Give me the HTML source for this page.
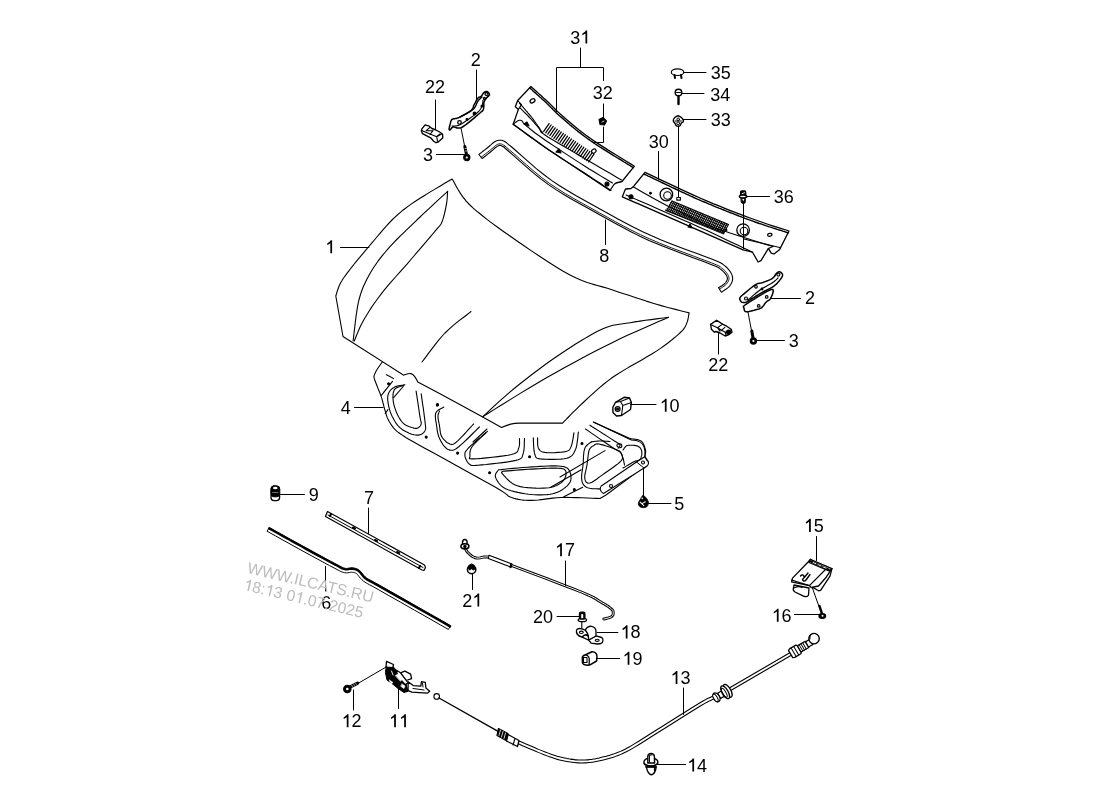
<!DOCTYPE html>
<html><head><meta charset="utf-8"><style>
html,body{margin:0;padding:0;background:#fff;width:1100px;height:800px;overflow:hidden}
svg{display:block;will-change:transform}
text{font-family:"Liberation Sans",sans-serif;font-size:18px;fill:#000}
.wm{font-size:15.75px;fill:#bdbdbd}
</style></head><body>
<svg width="1100" height="800" viewBox="0 0 1100 800">
<g fill="none" stroke="#000" stroke-width="1.1" stroke-linejoin="round" stroke-linecap="round">

<path fill="#fff" stroke="none" d="M377.3,369.0 L377.1,369.4 L376.7,370.1 L376.3,370.8 L375.9,371.6 L375.5,372.4 L375.1,373.2 L374.7,374.0 L374.5,374.7 L374.3,375.2 L374.1,375.6 L374.0,375.9 L373.9,376.2 L373.9,376.6 L374.0,377.2 L374.2,378.0 L374.5,379.2 L375.0,380.8 L375.8,382.8 L376.7,385.0 L377.6,387.4 L378.6,389.9 L379.6,392.3 L380.5,394.6 L381.2,396.6 L381.8,398.4 L382.3,400.1 L382.7,401.7 L383.1,403.3 L383.5,404.7 L383.8,406.2 L384.2,407.6 L384.6,409.0 L385.0,410.4 L385.4,411.7 L385.7,413.0 L386.1,414.2 L386.5,415.4 L386.9,416.6 L387.4,417.9 L388.0,419.1 L388.7,420.4 L389.4,421.7 L390.2,423.0 L391.0,424.4 L391.9,425.7 L392.8,426.9 L393.7,428.1 L394.7,429.2 L395.7,430.2 L396.7,431.1 L397.7,431.9 L398.8,432.7 L399.9,433.5 L401.1,434.3 L402.3,435.1 L403.7,436.0 L404.7,436.7 L405.2,437.1 L405.6,437.3 L406.1,437.7 L407.2,438.3 L409.2,439.4 L412.4,441.2 L417.2,443.9 L424.3,447.9 L433.7,453.0 L444.6,459.0 L456.2,465.5 L467.9,471.9 L478.8,478.0 L488.3,483.2 L495.5,487.3 L500.5,490.2 L503.8,492.4 L505.9,493.9 L507.1,494.9 L507.9,495.7 L508.7,496.2 L509.7,496.8 L511.5,497.5 L513.8,498.3 L516.1,498.9 L518.4,499.4 L520.8,499.8 L523.4,500.1 L526.0,500.3 L528.8,500.4 L531.8,500.4 L534.9,500.3 L538.2,500.0 L541.6,499.6 L545.2,499.1 L548.9,498.6 L552.7,498.1 L556.7,497.7 L560.9,497.5 L565.6,497.4 L570.9,497.5 L576.5,497.6 L582.3,497.8 L587.8,498.0 L592.7,498.2 L596.9,498.4 L600.0,498.5 L606,495 L642,468.4 L645.5,467.3 L648.5,462 L645,456.6 L644.9,450.6 C644,445 642,442 636,440.5 L631.3,440 L593.3,422.1 L560,424 L440,391 L383,360 Z"/>
<path d="M383,361 L377.3,369.0 L377.1,369.4 L376.7,370.1 L376.3,370.8 L375.9,371.6 L375.5,372.4 L375.1,373.2 L374.7,374.0 L374.5,374.7 L374.3,375.2 L374.1,375.6 L374.0,375.9 L373.9,376.2 L373.9,376.6 L374.0,377.2 L374.2,378.0 L374.5,379.2 L375.0,380.8 L375.8,382.8 L376.7,385.0 L377.6,387.4 L378.6,389.9 L379.6,392.3 L380.5,394.6 L381.2,396.6 L381.8,398.4 L382.3,400.1 L382.7,401.7 L383.1,403.3 L383.5,404.7 L383.8,406.2 L384.2,407.6 L384.6,409.0 L385.0,410.4 L385.4,411.7 L385.7,413.0 L386.1,414.2 L386.5,415.4 L386.9,416.6 L387.4,417.9 L388.0,419.1 L388.7,420.4 L389.4,421.7 L390.2,423.0 L391.0,424.4 L391.9,425.7 L392.8,426.9 L393.7,428.1 L394.7,429.2 L395.7,430.2 L396.7,431.1 L397.7,431.9 L398.8,432.7 L399.9,433.5 L401.1,434.3 L402.3,435.1 L403.7,436.0 L404.7,436.7 L405.2,437.1 L405.6,437.3 L406.1,437.7 L407.2,438.3 L409.2,439.4 L412.4,441.2 L417.2,443.9 L424.3,447.9 L433.7,453.0 L444.6,459.0 L456.2,465.5 L467.9,471.9 L478.8,478.0 L488.3,483.2 L495.5,487.3 L500.5,490.2 L503.8,492.4 L505.9,493.9 L507.1,494.9 L507.9,495.7 L508.7,496.2 L509.7,496.8 L511.5,497.5 L513.8,498.3 L516.1,498.9 L518.4,499.4 L520.8,499.8 L523.4,500.1 L526.0,500.3 L528.8,500.4 L531.8,500.4 L534.9,500.3 L538.2,500.0 L541.6,499.6 L545.2,499.1 L548.9,498.6 L552.7,498.1 L556.7,497.7 L560.9,497.5 L565.6,497.4 L570.9,497.5 L576.5,497.6 L582.3,497.8 L587.8,498.0 L592.7,498.2 L596.9,498.4 L600.0,498.5 L606,495 L642,468.4 L645.5,467.3 L648.5,462 L645,456.6 L644.9,450.6 C644,445 642,442 636,440.5 L631.3,440 L593.3,422.1"/>
<path d="M404.9,384.8 L404.1,384.9 L403.0,385.1 L401.6,385.3 L400.2,385.5 L398.7,385.8 L397.2,386.1 L395.8,386.5 L394.7,387.0 L393.7,387.6 L392.8,388.2 L391.9,388.9 L391.0,389.7 L390.3,390.5 L389.6,391.4 L389.1,392.3 L388.6,393.2 L388.2,394.2 L388.0,395.2 L387.8,396.2 L387.7,397.3 L387.7,398.5 L387.7,399.6 L387.8,400.9 L388.0,402.2 L388.2,403.6 L388.5,405.1 L388.8,406.6 L389.2,408.2 L389.6,409.8 L390.1,411.4 L390.7,413.0 L391.4,414.6 L392.1,416.2 L393.0,417.8 L393.8,419.5 L394.8,421.2 L395.8,422.8 L396.9,424.3 L398.0,425.7 L399.2,427.0 L400.5,428.1 L401.8,429.2 L403.3,430.2 L404.8,431.0 L406.3,431.8 L407.8,432.5 L409.2,433.2 L410.5,433.7 L411.8,434.2 L413.0,434.5 L414.2,434.8 L415.4,435.0 L416.5,435.1 L417.5,435.1 L418.6,435.1 L419.5,434.9 L420.4,434.6 L421.3,434.3 L422.1,433.8 L422.9,433.2 L423.6,432.6 L424.2,431.9 L424.7,431.2 L425.1,430.4 L425.4,429.7 L425.6,429.2 L425.7,428.6 L425.7,428.0 L425.6,427.1 L425.5,426.0 L425.3,424.5 L425.1,422.5 L424.8,419.7 L424.3,416.1 L423.8,412.0 L423.2,407.7 L422.5,403.4 L422.0,399.4 L421.5,396.2 L421.2,393.8"/>
<path d="M403.7,385.4 L403.0,385.7 L401.9,385.9 L400.7,386.3 L399.3,386.7 L397.9,387.2 L396.6,387.8 L395.5,388.5 L394.7,389.3 L394.1,390.3 L393.7,391.4 L393.3,392.7 L393.1,394.1 L393.0,395.5 L392.9,397.0 L393.0,398.5 L393.1,400.0 L393.3,401.6 L393.6,403.3 L394.0,405.0 L394.5,406.8 L395.1,408.6 L395.7,410.3 L396.3,412.0 L397.0,413.5 L397.7,415.0 L398.4,416.4 L399.2,417.8 L400.0,419.1 L400.8,420.4 L401.7,421.5 L402.7,422.6 L403.7,423.6 L404.8,424.5 L406.1,425.2 L407.5,425.9 L408.9,426.5 L410.3,427.0 L411.7,427.5 L412.9,427.8 L413.9,428.1 L414.7,428.3 L415.5,428.4 L416.1,428.4 L416.6,428.4 L417.1,428.3 L417.5,428.1 L418.0,427.9 L418.4,427.6 L418.9,427.3 L419.3,426.9 L419.8,426.5 L420.2,426.0 L420.5,425.5 L420.8,424.9 L421.1,424.3 L421.2,423.6 L421.3,423.0 L421.2,422.6 L421.2,422.1 L421.0,421.6 L420.8,420.9 L420.6,420.0 L420.3,418.7 L420.0,416.9 L419.6,414.4 L419.1,411.2 L418.6,407.5 L418.0,403.5 L417.4,399.7 L416.9,396.1 L416.4,393.1 L416.1,391.0"/>
<path d="M403.2,386.5 L393.6,397.7"/>
<path d="M381.2,395.5 L392.5,381.4"/>
<path d="M386.3,374.7 L386.6,374.8 L387.0,375.0 L387.4,375.2 L387.9,375.5 L388.5,375.7 L389.0,376.0 L389.5,376.2 L390.0,376.5 L390.5,376.8 L391.0,377.1 L391.5,377.4 L392.0,377.7 L392.5,378.0 L393.0,378.2 L393.3,378.4 L393.6,378.6"/>
<path d="M385.2,413.5 L388.0,409.6"/>
<path d="M443.8,407.0 L443.1,407.4 L442.2,407.9 L441.0,408.5 L439.8,409.2 L438.5,410.0 L437.4,410.9 L436.4,411.9 L435.8,413.0 L435.5,414.2 L435.3,415.6 L435.4,417.1 L435.5,418.7 L435.7,420.3 L436.0,421.9 L436.3,423.5 L436.5,425.0 L436.7,426.5 L436.9,427.9 L437.1,429.4 L437.3,430.8 L437.5,432.2 L437.9,433.7 L438.2,435.0 L438.7,436.4 L439.2,437.8 L439.9,439.2 L440.6,440.6 L441.3,441.9 L442.1,443.2 L442.9,444.5 L443.7,445.6 L444.5,446.5 L445.3,447.3 L446.0,448.0 L446.8,448.7 L447.6,449.2 L448.4,449.6 L449.3,449.9 L450.1,450.1 L451.0,450.2 L451.8,450.2 L452.6,450.2 L453.3,450.1 L454.1,449.8 L455.0,449.4 L456.1,448.7 L457.4,447.8 L459.0,446.5 L461.1,444.7 L463.7,442.3 L466.7,439.5 L469.8,436.5 L472.8,433.5 L475.5,430.8 L477.8,428.5 L479.5,426.9"/>
<path d="M439.5,411.0 L439.4,411.4 L439.2,411.8 L438.9,412.3 L438.7,412.9 L438.4,413.5 L438.2,414.3 L438.1,415.1 L438.0,416.0 L438.0,417.0 L438.1,418.1 L438.3,419.4 L438.5,420.7 L438.8,422.0 L439.0,423.4 L439.3,424.7 L439.5,426.0 L439.7,427.3 L439.9,428.6 L440.0,430.0 L440.2,431.4 L440.4,432.7 L440.7,434.0 L441.1,435.3 L441.6,436.4 L442.3,437.5 L443.1,438.6 L444.0,439.7 L445.0,440.7 L446.0,441.7 L447.0,442.5 L448.0,443.1 L449.0,443.6 L449.8,444.0 L450.6,444.2 L451.3,444.4 L452.0,444.5 L452.8,444.3 L453.7,443.9 L454.8,443.2 L456.2,442.2 L458.0,440.6 L460.2,438.4 L462.7,435.8 L465.4,433.0 L467.9,430.2 L470.2,427.7 L472.2,425.5 L473.6,424.0"/>
<path d="M487.5,431.3 L485.9,432.7 L483.7,434.5 L481.1,436.8 L478.2,439.2 L475.3,441.7 L472.6,444.1 L470.3,446.2 L468.5,448.0 L467.3,449.4 L466.3,450.5 L465.7,451.4 L465.2,452.2 L465.0,452.9 L464.9,453.6 L464.9,454.4 L464.9,455.3 L465.0,456.4 L465.3,457.6 L465.8,458.8 L466.3,460.0 L467.0,461.2 L467.7,462.3 L468.5,463.3 L469.3,464.0 L470.0,464.5 L470.5,465.0 L471.0,465.3 L471.6,465.4 L472.4,465.5 L473.7,465.5 L475.5,465.4 L478.0,465.2 L481.5,464.9 L486.1,464.5 L491.4,463.9 L497.0,463.3 L502.6,462.6 L507.8,461.9 L512.3,461.1 L515.8,460.4 L518.2,459.7 L519.9,459.1 L521.0,458.4 L521.7,457.8 L522.1,457.0 L522.4,456.1 L522.7,455.1 L523.1,453.8 L523.6,452.2 L523.9,450.2 L524.1,448.0 L524.3,445.7 L524.3,443.5 L524.4,441.5 L524.4,439.7 L524.5,438.5"/>
<path d="M486.0,432.7 L484.9,433.8 L483.2,435.3 L481.3,437.1 L479.2,439.0 L477.1,441.0 L475.2,443.0 L473.5,444.9 L472.2,446.5 L471.3,447.9 L470.7,449.3 L470.3,450.7 L470.0,451.9 L469.9,453.1 L469.9,454.2 L469.9,455.2 L470.0,456.0 L469.9,456.7 L469.7,457.4 L469.4,457.9 L469.3,458.3 L469.5,458.6 L470.2,458.8 L471.5,458.9 L473.6,458.9 L476.9,458.7 L481.4,458.4 L486.6,457.9 L492.3,457.3 L498.0,456.6 L503.4,455.9 L508.0,455.2 L511.5,454.5 L513.9,453.8 L515.6,453.1 L516.7,452.3 L517.4,451.6 L517.8,450.7 L518.1,449.9 L518.3,449.0 L518.7,448.0 L519.1,446.9 L519.4,445.6 L519.5,444.2 L519.6,442.8 L519.5,441.5 L519.5,440.3 L519.5,439.3 L519.5,438.5"/>
<path d="M473.0,442.0 L487.0,429.0"/>
<path d="M533.3,437.8 L533.4,439.1 L533.4,440.9 L533.5,443.1 L533.6,445.5 L533.8,447.9 L534.0,450.2 L534.3,452.2 L534.7,453.8 L535.1,455.0 L535.4,456.0 L535.7,456.8 L536.0,457.4 L536.6,457.9 L537.5,458.3 L538.8,458.6 L540.5,458.9 L542.9,459.1 L546.0,459.3 L549.6,459.4 L553.4,459.4 L557.3,459.3 L560.9,459.1 L564.1,458.7 L566.7,458.2 L568.7,457.6 L570.3,456.8 L571.5,455.9 L572.6,454.9 L573.4,453.8 L574.1,452.5 L574.8,451.1 L575.5,449.5 L576.2,447.6 L576.7,445.3 L577.1,442.8 L577.5,440.2 L577.8,437.7 L578.0,435.4 L578.2,433.4 L578.4,432.0"/>
<path d="M537.6,437.8 L537.6,438.6 L537.6,439.8 L537.6,441.1 L537.6,442.6 L537.6,444.2 L537.8,445.6 L538.0,446.9 L538.4,448.0 L538.8,448.9 L539.3,449.6 L539.8,450.3 L540.4,450.9 L541.2,451.4 L542.2,451.8 L543.4,452.1 L544.9,452.4 L546.9,452.6 L549.4,452.7 L552.2,452.7 L555.1,452.6 L558.1,452.4 L560.9,452.2 L563.4,451.9 L565.3,451.6 L566.7,451.2 L567.8,450.8 L568.7,450.4 L569.3,449.9 L569.8,449.2 L570.2,448.5 L570.6,447.6 L571.1,446.5 L571.6,445.1 L572.1,443.3 L572.5,441.4 L572.9,439.3 L573.3,437.2 L573.5,435.4 L573.8,433.8 L574.0,432.7"/>
<path d="M498.4,469.8 L498.1,470.3 L497.6,471.0 L497.0,471.8 L496.3,472.7 L495.8,473.7 L495.4,474.8 L495.3,475.9 L495.5,477.1 L496.0,478.4 L496.7,479.8 L497.6,481.4 L498.7,483.0 L500.1,484.6 L501.6,486.1 L503.5,487.5 L505.6,488.7 L508.1,489.8 L511.1,490.7 L514.4,491.6 L517.9,492.4 L521.5,493.1 L525.1,493.7 L528.6,494.2 L531.8,494.5 L534.9,494.7 L538.0,494.9 L541.1,494.9 L544.2,494.8 L547.1,494.6 L550.0,494.2 L552.6,493.7 L555.1,493.1 L557.4,492.3 L559.7,491.2 L561.8,490.0 L563.8,488.6 L565.6,487.2 L567.2,485.8 L568.5,484.3 L569.6,482.9 L570.4,481.5 L570.8,479.9 L571.0,478.4 L571.0,476.8 L570.9,475.2 L570.6,473.8 L570.1,472.4 L569.6,471.3 L569.1,470.3 L568.5,469.4 L567.9,468.7 L567.1,468.0 L566.0,467.4 L564.7,466.9 L563.0,466.5 L560.9,466.2 L558.3,466.0 L555.2,465.9 L551.7,465.9 L547.9,466.0 L543.9,466.2 L539.9,466.4 L535.8,466.7 L531.8,466.9 L527.6,467.2 L523.0,467.5 L518.1,468.0 L513.3,468.4 L508.7,468.8 L504.5,469.2 L501.0,469.6 L498.4,469.8Z"/>
<path d="M502.7,471.3 L502.6,471.5 L502.4,471.6 L502.1,471.8 L501.8,472.0 L501.6,472.3 L501.7,472.8 L502.0,473.4 L502.7,474.2 L503.7,475.3 L505.0,476.7 L506.5,478.3 L508.2,480.0 L510.1,481.8 L512.3,483.4 L514.7,484.7 L517.3,485.8 L520.3,486.6 L523.9,487.2 L527.8,487.6 L531.9,487.9 L535.9,488.1 L539.8,488.2 L543.4,488.1 L546.4,488.0 L549.0,487.7 L551.3,487.3 L553.3,486.8 L555.1,486.1 L556.8,485.4 L558.3,484.6 L559.6,483.8 L560.9,482.9 L562.1,482.0 L563.1,480.9 L563.9,479.8 L564.7,478.6 L565.2,477.4 L565.7,476.3 L565.9,475.2 L566.0,474.2 L566.0,473.3 L566.0,472.4 L565.9,471.5 L565.6,470.7 L565.0,470.0 L564.1,469.3 L562.8,468.8 L560.9,468.4 L558.4,468.2 L555.3,468.1 L551.7,468.1 L547.8,468.2 L543.8,468.4 L539.6,468.7 L535.6,468.9 L531.8,469.1 L528.0,469.3 L523.8,469.6 L519.6,469.9 L515.4,470.2 L511.5,470.6 L507.9,470.9 L504.9,471.1 L502.7,471.3Z"/>
<path d="M550.7,487.3 L581.3,469.8"/>
<path d="M563.8,496.7 L582.7,487.3"/>
<path d="M560.0,477.0 L605.0,450.6"/>
<path d="M591.5,441.8 L590.9,442.2 L590.2,442.7 L589.2,443.4 L588.2,444.1 L587.2,445.0 L586.2,446.0 L585.4,447.1 L584.8,448.5 L584.3,450.1 L583.9,452.0 L583.7,454.0 L583.5,456.2 L583.4,458.5 L583.3,460.8 L583.2,462.9 L583.0,465.0 L582.8,467.0 L582.5,469.0 L582.2,471.1 L581.9,473.1 L581.7,475.0 L581.6,476.8 L581.6,478.5 L581.8,480.0 L582.0,481.3 L582.4,482.5 L582.9,483.6 L583.5,484.6 L584.1,485.5 L585.0,486.2 L585.9,486.9 L587.0,487.5 L588.4,488.0 L590.1,488.3 L592.1,488.6 L594.1,488.7 L596.1,488.8 L597.9,488.9 L599.4,488.9 L600.5,489.0"/>
<path d="M593.8,445.5 L593.2,445.9 L592.5,446.3 L591.6,446.8 L590.8,447.6 L589.9,448.6 L589.2,450.0 L588.7,451.9 L588.3,454.3 L588.0,456.9 L587.7,459.7 L587.3,462.5 L587.0,465.0 L586.5,467.4 L586.0,469.9 L585.4,472.4 L584.9,474.7 L584.7,476.8 L584.8,478.5 L585.1,479.9 L585.6,481.2 L586.3,482.2 L587.2,482.9 L588.5,483.2 L590.0,483.0 L591.9,482.2 L594.3,480.8 L596.9,479.0 L599.6,476.9 L602.4,474.9 L605.0,473.0 L607.6,471.2 L610.5,469.2 L613.3,467.2 L615.9,465.3 L618.2,463.6 L620.0,462.0 L621.2,460.7 L622.0,459.6 L622.4,458.7 L622.5,457.8 L622.5,456.9 L622.2,456.0 L622.0,455.0 L621.5,454.0 L620.9,453.0 L620.0,452.0 L618.7,451.0 L617.0,450.0 L614.6,448.9 L611.5,447.7 L608.0,446.5 L604.5,445.4 L601.4,444.6 L599.0,444.0 L597.3,443.8 L596.1,444.0 L595.2,444.4 L594.6,444.8 L594.2,445.2 L593.8,445.5"/>
<path d="M591.5,441.8 L592.1,441.7 L593.0,441.6 L594.0,441.5 L595.1,441.3 L596.3,441.2 L597.6,441.1 L598.8,441.0 L600.0,441.0 L601.2,441.0 L602.6,441.0 L604.1,441.1 L605.5,441.2 L606.9,441.3 L608.2,441.4 L609.2,441.5 L610.0,441.5"/>
<path d="M630.5,438.8 L631.4,438.9 L632.5,439.0 L633.9,439.1 L635.5,439.3 L637.0,439.6 L638.6,439.9 L639.9,440.4 L641.0,441.0 L641.9,441.8 L642.7,442.8 L643.4,444.0 L644.0,445.2 L644.5,446.5 L644.9,447.8 L645.2,448.9 L645.5,450.0 L645.7,451.0 L645.7,452.0 L645.6,453.0 L645.4,453.9 L645.2,454.8 L645.0,455.6 L644.8,456.2 L644.8,456.8"/>
<path d="M623.0,450.0 L623.3,449.6 L623.7,449.1 L624.1,448.4 L624.6,447.7 L625.2,447.0 L625.8,446.4 L626.6,445.8 L627.5,445.5 L628.6,445.3 L629.9,445.2 L631.3,445.2 L632.8,445.3 L634.3,445.4 L635.7,445.6 L637.0,445.9 L638.0,446.2 L638.8,446.7 L639.5,447.2 L640.1,447.8 L640.6,448.5 L641.0,449.2 L641.3,449.9 L641.6,450.7 L641.8,451.5 L641.8,452.4 L641.9,453.3 L641.8,454.3 L641.7,455.4 L641.4,456.4 L641.1,457.4 L640.7,458.3 L640.2,459.0 L639.7,459.6 L639.0,460.0 L638.3,460.3 L637.4,460.6 L636.5,460.9 L635.6,461.1 L634.6,461.5 L633.5,462.0 L632.3,462.6 L630.9,463.4 L629.4,464.3 L627.8,465.2 L626.3,466.1 L625.0,466.9 L623.8,467.5 L623.0,468.0"/>
<path d="M593.8,422.2 L630.5,438.8"/>
<path d="M590.0,425.2 L592.2,426.7 L595.4,428.7 L599.2,431.1 L603.2,433.8 L607.4,436.4 L611.2,438.9 L614.5,441.0 L617.0,442.5 L618.6,443.4 L619.7,443.9 L620.3,444.2 L620.7,444.1 L620.8,444.0 L620.8,443.9 L620.8,443.8 L621.0,444.0 L621.3,444.3 L621.5,444.7 L621.6,445.1 L621.7,445.5 L621.8,446.0 L621.7,446.4 L621.7,446.7 L621.5,447.0 L621.2,447.2 L620.8,447.4 L620.3,447.6 L619.8,447.7 L619.2,447.8 L618.7,447.9 L618.3,447.9 L618.0,448.0"/>
<path d="M585.5,429.0 L587.9,430.6 L591.1,432.9 L595.1,435.6 L599.4,438.6 L603.7,441.5 L607.8,444.3 L611.3,446.7 L614.0,448.5 L615.8,449.6 L617.2,450.3 L618.0,450.7 L618.6,450.8 L619.0,450.8 L619.2,450.9 L619.5,451.1 L620.0,451.5 L620.5,452.1 L621.0,452.9 L621.4,453.7 L621.8,454.5 L622.1,455.4 L622.4,456.3 L622.7,457.1 L623.0,458.0 L623.3,458.9 L623.5,459.9 L623.7,460.9 L623.9,461.9 L624.1,462.9 L624.3,463.7 L624.4,464.5 L624.5,465.0"/>
<path fill="#fff" d="M636.5,462 L601.25,486 C599.5,488 600,492 603.5,493.5 L644,468 L647,466 C649,464 649,461.5 647,460.5 L644.75,456.75 L636.5,462 Z"/><path d="M636.5,462 L644,468" stroke-width="1"/>
<circle cx="611" cy="486" r="1.5"/>
<circle cx="643" cy="462.5" r="1.5"/>
<circle cx="618.5" cy="445.5" r="1.6"/>
<circle cx="582" cy="443.5" r="1" fill="#000"/>
<circle cx="574.3" cy="489.6" r="1" fill="#000"/>
<circle cx="437.3" cy="405.1" r="1" fill="#000"/>
<circle cx="457.6" cy="453.1" r="1" fill="#000"/>
<circle cx="489.6" cy="472.7" r="1" fill="#000"/>
<circle cx="529.6" cy="456.7" r="1" fill="#000"/>
<circle cx="388.6" cy="383.7" r="1" fill="#000"/>
<circle cx="426.2" cy="437.1" r="1" fill="#000"/>
<circle cx="437.5" cy="404.5" r="1" fill="#000"/>
<path fill="#fff" d="M452.1,179.0 L449.1,180.8 L445.1,183.1 L440.3,186.0 L435.0,189.1 L429.5,192.4 L424.1,195.7 L419.2,198.7 L415.0,201.5 L411.5,203.9 L408.4,206.1 L405.5,208.2 L402.9,210.2 L400.4,212.3 L397.9,214.5 L395.3,216.9 L392.5,219.5 L389.6,222.5 L386.5,225.8 L383.4,229.3 L380.4,232.9 L377.3,236.5 L374.4,240.0 L371.5,243.4 L368.9,246.5 L366.4,249.4 L364.1,252.2 L361.8,254.8 L359.7,257.4 L357.6,259.8 L355.7,262.2 L353.8,264.5 L352.0,266.8 L350.3,269.0 L348.7,271.1 L347.1,273.1 L345.7,275.1 L344.3,277.0 L343.0,278.8 L341.9,280.7 L340.8,282.5 L339.8,284.4 L339.0,286.3 L338.3,288.3 L337.6,290.2 L337.0,292.0 L336.6,293.6 L336.1,295.0 L335.8,296.0 L343,336.5 L403.7,375.2 C406,374.5 409,373 411,373.6 C414,374.5 416,378 417.8,382 L440,393.8 L481.8,416.6 L501.5,427.5 C507,425 513,423.1 518.9,423.1 L562.6,423.1 562.6,423.1 L564.0,421.6 L565.9,419.7 L568.0,417.5 L570.5,414.9 L573.2,412.2 L576.1,409.3 L579.1,406.4 L582.2,403.5 L585.4,400.5 L588.7,397.4 L592.3,394.2 L595.9,390.8 L599.8,387.4 L603.9,384.0 L608.2,380.6 L612.7,377.3 L617.7,374.0 L623.2,370.6 L629.0,367.1 L635.0,363.7 L640.9,360.4 L646.6,357.1 L651.8,354.0 L656.4,351.1 L660.5,348.4 L664.2,345.7 L667.6,343.2 L670.7,340.8 L673.5,338.5 L676.1,336.4 L678.4,334.4 L680.4,332.5 L682.1,330.9 L683.4,329.4 L684.3,328.2 L685.0,327.0 L685.5,326.0 L686.0,324.9 L686.4,323.9 L686.9,322.7 L687.4,321.4 L687.8,320.0 L688.1,318.6 L688.4,317.2 L688.6,315.9 L688.8,314.7 L689.0,313.7 L689.1,312.9 689.1,312.9 L686.7,312.3 L683.5,311.5 L679.7,310.5 L675.5,309.4 L670.9,308.2 L666.1,307.0 L661.2,305.6 L656.4,304.2 L651.5,302.7 L646.2,301.1 L640.8,299.3 L635.2,297.5 L629.5,295.6 L623.8,293.7 L618.2,291.9 L612.7,290.0 L607.4,288.3 L602.4,286.9 L597.4,285.5 L592.4,284.1 L587.2,282.4 L581.9,280.5 L576.2,278.0 L570.0,275.0 L563.2,271.2 L555.8,266.8 L547.9,261.8 L539.9,256.5 L531.8,251.1 L524.0,245.8 L516.7,240.7 L510.0,236.0 L503.8,231.7 L497.9,227.5 L492.3,223.4 L487.0,219.4 L482.1,215.5 L477.5,211.8 L473.2,208.1 L469.4,204.5 L466.0,200.9 L463.0,197.1 L460.4,193.4 L458.2,189.8 L456.3,186.4 L454.7,183.4 L453.3,180.9 L452.1,179.0 Z"/>
<path d="M447.6,191.4 L445.0,193.8 L441.6,196.9 L437.5,200.7 L433.0,204.9 L428.2,209.3 L423.5,213.7 L419.0,218.0 L415.0,221.8 L411.3,225.4 L407.6,228.8 L404.1,232.3 L400.6,235.7 L397.2,239.0 L394.0,242.3 L390.9,245.6 L388.0,248.8 L385.3,252.0 L382.7,255.1 L380.3,258.1 L378.0,261.2 L375.9,264.2 L373.8,267.2 L371.9,270.3 L370.0,273.5 L368.2,276.7 L366.6,279.8 L365.1,282.9 L363.6,286.0 L362.3,289.3 L361.1,292.7 L359.9,296.5 L358.8,300.5 L357.8,305.2 L356.9,310.6 L356.0,316.5 L355.3,322.4 L354.6,328.2 L354.0,333.4 L353.5,337.8 L353.1,341.0"/>
<path d="M447.6,191.4 L447.5,192.3 L447.5,193.5 L447.4,194.9 L447.3,196.5 L447.2,198.2 L447.0,200.0 L446.8,201.9 L446.5,203.8 L446.1,205.8 L445.7,208.1 L445.2,210.5 L444.6,213.0 L444.0,215.5 L443.4,217.8 L442.7,219.9 L442.0,221.8 L441.4,223.2 L440.9,224.2 L440.4,224.9 L439.9,225.6 L439.2,226.3 L438.3,227.3 L437.0,228.8 L435.3,230.8 L433.1,233.5 L430.5,236.6 L427.5,240.1 L424.3,243.9 L420.9,247.8 L417.4,251.9 L413.9,256.0 L410.5,260.0 L407.0,264.1 L403.2,268.3 L399.4,272.6 L395.5,277.0 L391.6,281.4 L387.9,285.7 L384.4,289.9 L381.3,293.8 L378.5,297.5 L375.8,301.2 L373.3,304.7 L371.0,308.1 L368.9,311.5 L366.9,314.7 L365.0,317.8 L363.3,320.8 L361.7,323.8 L360.2,326.8 L358.9,329.8 L357.7,332.6 L356.6,335.2 L355.7,337.5 L354.9,339.5 L354.3,341.0"/>
<path d="M471.0,311.5 L469.0,313.1 L466.3,315.2 L463.0,317.7 L459.4,320.4 L455.7,323.4 L451.9,326.6 L448.3,329.8 L445.0,333.0 L441.8,336.5 L438.5,340.4 L435.1,344.6 L431.9,348.8 L428.8,352.9 L426.1,356.6 L423.8,359.7 L422.0,362.0"/>
<path d="M668.4,317.3 L664.2,319.2 L658.6,321.6 L652.0,324.4 L644.6,327.7 L636.7,331.2 L628.6,334.8 L620.5,338.6 L612.7,342.4 L605.0,346.3 L597.0,350.3 L588.8,354.6 L580.5,359.0 L572.2,363.5 L563.8,368.0 L555.5,372.7 L547.3,377.3 L538.8,382.3 L529.6,387.7 L520.2,393.4 L511.0,399.1 L502.3,404.5 L494.4,409.4 L487.9,413.5 L482.9,416.6"/>
<path d="M668.4,317.3 L665.4,317.7 L661.3,318.2 L656.4,318.9 L651.1,319.6 L645.5,320.3 L640.0,321.1 L634.8,321.9 L630.2,322.7 L626.3,323.3 L622.8,323.8 L619.5,324.2 L616.3,324.7 L613.1,325.3 L609.7,326.2 L606.0,327.5 L601.8,329.3 L597.1,331.6 L592.0,334.3 L586.6,337.4 L581.0,340.8 L575.2,344.3 L569.5,348.0 L563.8,351.8 L558.2,355.5 L552.7,359.3 L547.0,363.3 L541.3,367.5 L535.6,371.7 L530.0,376.0 L524.6,380.2 L519.4,384.3 L514.5,388.2 L509.8,392.1 L505.0,396.3 L500.4,400.4 L496.0,404.4 L491.9,408.2 L488.3,411.6 L485.3,414.4 L482.9,416.6"/>
<path fill="#fff" d="M478.9,154.5 L480.0,153.6 L481.5,152.4 L483.3,151.0 L485.1,149.6 L486.9,148.2 L488.4,147.0 L489.5,146.0 L490.6,145.1 L491.6,144.2 L492.6,143.3 L493.6,142.5 L494.7,141.8 L495.7,141.2 L496.7,140.8 L497.7,140.5 L498.7,140.3 L499.7,140.2 L500.7,140.2 L501.7,140.3 L502.6,140.6 L503.5,140.9 L504.3,141.3 L505.1,141.8 L505.9,142.3 L506.1,142.4 L505.3,142.1 L506.7,142.8 L507.2,143.3 L508.7,144.6 L511.7,147.0 L516.3,151.0 L522.1,156.2 L528.9,162.2 L536.3,168.6 L544.0,174.8 L551.5,180.4 L559.2,185.5 L567.3,190.5 L575.7,195.5 L584.2,200.3 L592.8,205.1 L601.3,209.7 L609.5,214.3 L617.5,218.7 L625.5,223.0 L633.6,227.3 L642.1,231.5 L651.1,235.6 L661.2,239.9 L672.6,244.4 L684.4,248.9 L695.6,253.0 L705.5,256.7 L713.0,259.6 L717.7,261.5 L720.4,262.7 L721.8,263.4 L722.8,264.2 L722.9,264.4 L723.6,264.9 L724.9,265.9 L726.2,267.0 L727.4,268.1 L728.4,269.3 L729.3,270.4 L730.2,271.6 L730.9,272.7 L731.5,273.9 L732.0,275.1 L732.4,276.4 L732.6,277.8 L732.6,279.2 L732.4,280.6 L732.0,282.0 L731.4,283.2 L730.7,284.5 L729.9,285.6 L728.9,286.8 L727.7,287.9 L726.2,289.0 L724.7,290.0 L723.4,290.9 L722.2,291.7 L721.4,292.2 L718.6,287.8 718.6,287.8 L719.4,287.3 L720.6,286.5 L721.9,285.7 L723.2,284.8 L724.3,284.0 L725.1,283.2 L725.7,282.5 L726.3,281.7 L726.7,280.9 L727.1,280.1 L727.3,279.4 L727.4,278.8 L727.4,278.2 L727.3,277.6 L727.1,276.9 L726.8,276.1 L726.4,275.3 L725.8,274.4 L725.2,273.6 L724.5,272.7 L723.6,271.8 L722.7,270.9 L721.7,270.0 L720.4,269.1 L719.4,268.2 L719.0,267.8 L719.2,267.9 L718.3,267.4 L715.7,266.3 L711.0,264.4 L703.6,261.6 L693.8,257.9 L682.6,253.7 L670.8,249.3 L659.3,244.7 L648.9,240.4 L639.9,236.2 L631.3,231.9 L623.0,227.6 L615.0,223.3 L606.9,218.8 L598.7,214.3 L590.3,209.6 L581.7,204.8 L573.1,200.0 L564.6,195.0 L556.3,189.9 L548.5,184.6 L540.8,178.9 L533.0,172.6 L525.5,166.1 L518.7,160.1 L512.8,154.9 L508.3,151.0 L505.4,148.5 L503.9,147.2 L503.3,146.7 L504.6,147.3 L503.8,147.1 L503.1,146.7 L502.4,146.2 L501.8,145.9 L501.4,145.7 L501.0,145.5 L500.7,145.4 L500.3,145.4 L499.9,145.4 L499.4,145.4 L499.0,145.5 L498.5,145.7 L498.0,145.9 L497.3,146.2 L496.7,146.7 L495.9,147.3 L495.0,148.0 L494.0,148.9 L492.9,149.9 L491.6,151.0 L490.1,152.2 L488.4,153.6 L486.5,155.1 L484.7,156.5 L483.2,157.7 L482.1,158.5 Z"/>
<path d="M481.1,157.3 L482.2,156.4 L483.7,155.2 L485.5,153.8 L487.4,152.4 L489.1,151.0 L490.6,149.8 L491.9,148.7 L493.0,147.8 L494.0,146.9 L494.9,146.1 L495.7,145.4 L496.5,144.9 L497.3,144.4 L498.0,144.1 L498.6,144.0 L499.2,143.8 L499.8,143.8 L500.4,143.8 L501.0,143.9 L501.5,144.0 L502.0,144.2 L502.6,144.5 L503.2,144.9 L504.0,145.3 L504.5,145.6 L504.8,145.7 L504.3,145.5 L504.9,146.0 L506.4,147.3 L509.3,149.8 L513.9,153.7 L519.7,158.9 L526.6,164.9 L534.0,171.3 L541.7,177.6 L549.4,183.3 L557.2,188.5 L565.4,193.6 L573.9,198.6 L582.5,203.4 L591.1,208.2 L599.5,212.9 L607.7,217.4 L615.7,221.9 L623.8,226.2 L632.0,230.5 L640.5,234.7 L649.6,238.9 L659.9,243.3 L671.3,247.8 L683.1,252.2 L694.4,256.4 L704.2,260.1 L711.6,262.9 L716.3,264.8 L718.9,265.9 L720.0,266.5 L720.2,266.7 L720.5,267.1 L721.4,267.8 L722.7,268.7 L723.8,269.7 L724.8,270.6 L725.7,271.6 L726.5,272.6 L727.2,273.6 L727.8,274.5 L728.2,275.4 L728.6,276.3 L728.9,277.2 L729.0,278.1 L729.0,278.9 L728.9,279.8 L728.6,280.7 L728.2,281.6 L727.6,282.5 L727.0,283.4 L726.3,284.3 L725.3,285.2 L724.1,286.1 L722.8,287.0 L721.4,287.9 L720.3,288.6 L719.4,289.2" stroke-width="0.9"/>
<path fill="#fff" stroke-width="1.3" d="M530.9,86.5 L532.2,87.7 L534.0,89.3 L536.2,91.2 L538.5,93.4 L541.0,95.6 L543.5,97.9 L545.9,100.0 L548.0,102.0 L549.8,103.8 L551.5,105.4 L553.0,107.0 L554.5,108.5 L556.1,110.2 L557.9,111.9 L560.0,113.8 L562.5,116.0 L565.3,118.4 L568.3,121.0 L571.6,123.8 L575.1,126.7 L578.8,129.7 L582.7,132.7 L586.8,135.9 L591.2,139.0 L596.2,142.4 L602.0,146.1 L608.2,150.1 L614.6,154.0 L620.7,157.8 L626.3,161.2 L631.0,164.1 L634.4,166.2 L622,181.5 L616,183 L614,184.5 L610,190.5 L549,150 L513.2,124.2 L518.4,109.4 L515.3,106.7 L517.7,100.5 Z"/>
<path d="M529.7,87.8 L529.9,88.0 L530.2,88.3 L530.6,88.6 L531.0,89.0 L531.4,89.4 L531.9,89.8 L532.4,90.2 L532.8,90.7 L533.3,91.1 L533.8,91.6 L534.4,92.1 L535.0,92.6 L535.6,93.1 L536.1,93.6 L536.7,94.2 L537.3,94.7 L537.9,95.3 L538.6,95.8 L539.2,96.4 L539.8,97.0 L540.5,97.5 L541.1,98.1 L541.7,98.7 L542.3,99.2 L542.9,99.7 L543.5,100.3 L544.1,100.8 L544.6,101.3 L545.2,101.8 L545.7,102.3 L546.3,102.8 L546.8,103.3 L547.2,103.8 L547.7,104.2 L548.1,104.6 L548.6,105.0 L549.0,105.5 L549.4,105.9 L549.8,106.3 L550.2,106.7 L550.6,107.1 L551.0,107.5 L551.4,107.8 L551.7,108.2 L552.1,108.6 L552.5,109.0 L552.8,109.4 L553.2,109.8 L553.7,110.2 L554.1,110.6 L554.5,111.0 L554.9,111.4 L555.3,111.9 L555.8,112.3 L556.2,112.8 L556.7,113.2 L557.2,113.7 L557.7,114.2 L558.3,114.7 L558.9,115.2 L559.4,115.7 L560.0,116.2 L560.7,116.8 L561.3,117.4 L562.0,117.9 L562.7,118.5 L563.4,119.1 L564.1,119.8 L564.9,120.4 L565.6,121.1 L566.4,121.7 L567.2,122.4 L568.0,123.1 L568.8,123.8 L569.6,124.5 L570.4,125.2 L571.3,125.9 L572.1,126.6 L573.0,127.3 L573.9,128.1 L574.8,128.8 L575.7,129.6 L576.7,130.3 L577.6,131.1 L578.6,131.9 L579.6,132.6 L580.6,133.4 L581.6,134.2 L582.6,134.9 L583.6,135.7 L584.6,136.5 L585.7,137.3 L586.7,138.0 L587.8,138.8 L589.0,139.6 L590.2,140.5 L591.4,141.3 L592.7,142.2 L594.0,143.1 L595.3,144.0 L596.7,144.9 L598.1,145.8 L599.6,146.7 L601.0,147.7 L602.5,148.6 L604.1,149.6 L605.7,150.6 L607.3,151.6 L608.9,152.6 L610.5,153.6 L612.1,154.6 L613.6,155.6 L615.2,156.5 L616.7,157.5 L618.3,158.4 L619.8,159.3 L621.3,160.2 L622.7,161.1 L624.1,162.0 L625.4,162.7 L626.6,163.5 L627.8,164.3 L629.0,165.0 L630.1,165.7 L631.2,166.3 L632.1,166.9 L632.9,167.4 L633.5,167.7" stroke-width="1.4"/>
<path d="M519.4,103.2 L519.9,103.7 L520.5,104.4 L521.2,105.2 L522.1,106.1 L523.0,107.1 L523.9,108.1 L524.7,109.1 L525.6,110.1 L526.4,111.1 L527.3,112.0 L528.1,113.1 L529.0,114.1 L529.9,115.1 L530.8,116.2 L531.6,117.3 L532.5,118.4 L533.4,119.6 L534.3,120.8 L535.1,122.0 L536.0,123.3 L536.9,124.5 L537.8,125.8 L538.6,126.9 L539.4,128.0 L539.9,128.9 L540.1,129.5 L540.1,130.1 L540.2,130.6 L540.5,131.3 L541.2,132.2 L542.7,133.4 L545.0,135.0 L548.3,137.2 L552.6,139.8 L557.5,142.7 L562.8,145.8 L568.5,149.1 L574.1,152.4 L579.5,155.5 L584.6,158.5 L589.6,161.4 L594.9,164.5 L600.3,167.7 L605.5,170.7 L610.5,173.6 L614.9,176.2 L618.7,178.4 L621.5,180.0"/>
<path d="M520.1,108.0 L520.8,108.7 L521.8,109.7 L523.0,110.8 L524.2,112.1 L525.6,113.5 L527.1,114.9 L528.6,116.5 L530.0,118.0 L531.5,119.7 L533.3,121.7 L535.2,123.8 L537.0,126.0 L538.8,128.1 L540.4,130.0 L541.8,131.6 L542.8,132.8"/>
<path d="M517.7,100.5 L521.5,104.6 L518.4,109.4"/>
<path d="M513.2,124.2 L513.6,123.9 L514.2,123.4 L514.9,122.9 L515.7,122.3 L516.5,121.7 L517.3,121.1 L518.1,120.7 L518.7,120.4 L519.2,120.2 L519.7,120.2 L520.2,120.2 L520.6,120.3 L521.0,120.4 L521.4,120.6 L521.8,120.8 L522.2,121.1 L522.5,121.4 L522.7,121.6 L522.8,121.9 L522.9,122.3 L523.2,122.7 L523.6,123.3 L524.4,124.2 L525.6,125.2 L527.1,126.5 L528.9,127.9 L530.8,129.5 L533.0,131.2 L535.5,133.2 L538.4,135.3 L541.5,137.5 L545.0,140.0 L549.1,142.8 L553.8,145.9 L558.9,149.3 L564.3,152.9 L569.7,156.4 L575.0,159.9 L580.1,163.1 L584.6,166.0 L588.8,168.7 L593.1,171.3 L597.1,173.8 L601.0,176.1 L604.6,178.3 L607.8,180.2 L610.4,181.8 L612.5,183.0"/>
<path d="M513.2,124.2 L515.6,126.0 L518.7,128.3 L522.5,131.1 L526.6,134.2 L531.1,137.5 L535.8,140.9 L540.4,144.2 L545.0,147.4 L549.7,150.5 L554.7,153.8 L559.9,157.2 L565.1,160.6 L570.4,163.9 L575.4,167.1 L580.2,170.2 L584.6,173.0 L588.7,175.7 L592.7,178.4 L596.6,180.9 L600.3,183.3 L603.6,185.6 L606.6,187.5 L609.1,189.2 L611.0,190.5"/>
<path d="M524,124 l3,-2 l2,4 z" fill="#000"/><path d="M556,152 l3,-3 l2,4 z" fill="#000"/>
<ellipse cx="532.5" cy="100.8" rx="2.6" ry="1.8" transform="rotate(-30 532.5 100.8)" stroke-width="1.3"/>
<ellipse cx="593.8" cy="151.1" rx="2.4" ry="1.9" transform="rotate(-30 593.8 151.1)" stroke-width="1.2"/>
<circle cx="607" cy="184" r="2" fill="#000"/>
<path d="M549.1,123.6l-5.4,7.8M551.1,125.0l-5.4,7.8M553.2,126.4l-5.4,7.8M555.2,127.8l-5.4,7.8M557.3,129.2l-5.4,7.8M559.3,130.6l-5.4,7.8M561.3,131.9l-5.4,7.8M563.4,133.3l-5.4,7.8M565.4,134.7l-5.4,7.8M567.5,136.1l-5.4,7.8M569.5,137.5l-5.4,7.8M571.5,138.9l-5.4,7.8M573.6,140.3l-5.4,7.8M575.6,141.7l-5.4,7.8M577.7,143.1l-5.4,7.8M579.7,144.5l-5.4,7.8M581.8,145.9l-5.4,7.8M583.8,147.2l-5.4,7.8M585.8,148.6l-5.4,7.8M587.9,150.0l-5.4,7.8M589.9,151.4l-5.4,7.8M592.0,152.8l-5.4,7.8M594.0,154.2l-5.4,7.8" stroke-width="1.25"/>
<path d="M599,119.5 L603,117.5 L606.5,121 L604.5,125 L600,124.5 Z" fill="#000"/><path d="M602,122 l2,-1" stroke="#fff" stroke-width="0.8"/>
<path fill="#fff" stroke-width="1.3" d="M645.0,172.3 L649.3,174.3 L655.0,177.1 L661.8,180.3 L669.4,183.9 L677.3,187.7 L685.3,191.4 L693.0,194.9 L700.0,198.0 L706.6,200.8 L713.1,203.6 L719.6,206.2 L726.0,208.8 L732.3,211.3 L738.4,213.6 L744.3,215.9 L750.0,218.0 L755.7,220.0 L761.4,222.0 L767.1,224.0 L772.6,225.8 L777.7,227.4 L782.2,228.8 L786.1,230.0 L789.0,231.0 L779.7,249.4 L774,254 L771.2,253.1 L768.4,248.4 L761,260.6 L758.1,262 L752.5,252.2 L743.1,249.8 L622.3,196.8 L625.5,189 L631,188.5 L633.2,186.8 Z"/>
<path d="M644.1,174.1 L644.9,174.5 L645.8,174.9 L647.0,175.4 L648.2,176.1 L649.6,176.7 L651.1,177.4 L652.6,178.1 L654.1,178.9 L655.7,179.6 L657.4,180.4 L659.1,181.2 L661.0,182.1 L662.8,183.0 L664.7,183.9 L666.6,184.8 L668.5,185.7 L670.4,186.6 L672.4,187.6 L674.4,188.5 L676.5,189.5 L678.5,190.4 L680.5,191.4 L682.5,192.3 L684.5,193.2 L686.4,194.1 L688.3,194.9 L690.2,195.8 L692.0,196.6 L693.8,197.5 L695.7,198.3 L697.4,199.1 L699.2,199.8 L700.9,200.6 L702.6,201.3 L704.3,202.0 L705.9,202.7 L707.5,203.4 L709.1,204.1 L710.7,204.7 L712.3,205.4 L714.0,206.1 L715.6,206.8 L717.2,207.4 L718.8,208.1 L720.5,208.7 L722.1,209.4 L723.7,210.0 L725.3,210.7 L726.8,211.3 L728.4,211.9 L730.0,212.5 L731.5,213.1 L733.1,213.7 L734.6,214.3 L736.2,214.9 L737.7,215.5 L739.2,216.1 L740.6,216.6 L742.1,217.2 L743.6,217.7 L745.0,218.3 L746.4,218.8 L747.9,219.3 L749.3,219.9 L750.8,220.4 L752.2,220.9 L753.6,221.4 L755.1,222.0 L756.5,222.5 L757.9,223.0 L759.4,223.5 L760.8,223.9 L762.2,224.4 L763.6,224.9 L765.1,225.4 L766.5,225.9 L767.9,226.3 L769.3,226.8 L770.7,227.2 L772.0,227.7 L773.3,228.1 L774.6,228.5 L775.9,228.9 L777.1,229.3 L778.3,229.7 L779.5,230.0 L780.6,230.4 L781.6,230.7 L782.7,231.1 L783.7,231.4 L784.7,231.7 L785.6,232.0 L786.5,232.3 L787.2,232.5 L787.9,232.7 L788.4,232.9" stroke-width="1.4"/>
<path d="M633.2,186.8 L635.8,188.3 L639.1,190.2 L643.0,192.4 L647.5,195.0 L652.3,197.7 L657.4,200.5 L662.5,203.3 L667.7,205.9 L672.9,208.5 L678.4,211.2 L684.0,214.0 L689.9,216.8 L695.9,219.6 L702.1,222.4 L708.5,225.1 L715.0,227.7 L722.1,230.3 L730.1,233.1 L738.5,235.8 L747.0,238.5 L755.0,241.0 L762.3,243.2 L768.5,245.1 L773.0,246.5"/>
<path d="M626.0,195.0 L631.9,197.6 L639.8,201.0 L649.3,205.1 L659.7,209.7 L670.6,214.5 L681.3,219.2 L691.3,223.6 L700.0,227.5 L708.0,231.1 L715.9,234.8 L723.6,238.4 L730.9,241.9 L737.6,245.1 L743.6,247.9 L748.6,250.3 L752.5,252.2"/>
<path d="M744.0,239.0 L779.7,247.5"/>
<path d="M768.4,248.4 L773.0,246.5"/>
<circle cx="666.4" cy="194.5" r="6.3" stroke-width="1.3"/><circle cx="667.5" cy="195.5" r="3.8"/>
<circle cx="743.1" cy="230.1" r="6.3" stroke-width="1.3"/><circle cx="744" cy="231" r="3.8"/>
<rect x="676.8" y="197.5" width="3.6" height="2.6" stroke-width="1.1"/>
<ellipse cx="769.8" cy="234.8" rx="2.2" ry="1.4" transform="rotate(-15 769.8 234.8)" stroke-width="1.2"/>
<circle cx="650.5" cy="193.2" r="0.9" fill="#000"/><circle cx="631" cy="196.8" r="2" fill="#000"/><path d="M688,227 l2,-3 l2,4z" fill="#000"/><circle cx="726" cy="230" r="0.9" fill="#000"/>
<path d="M672.0,201.0l-5,9M673.7,201.7l-5,9M675.4,202.4l-5,9M677.1,203.1l-5,9M678.8,203.8l-5,9M680.6,204.6l-5,9M682.3,205.3l-5,9M684.0,206.0l-5,9M685.7,206.7l-5,9M687.4,207.4l-5,9M689.1,208.1l-5,9M690.8,208.8l-5,9M692.5,209.5l-5,9M694.3,210.3l-5,9M696.0,211.0l-5,9M697.7,211.7l-5,9M699.4,212.4l-5,9M701.1,213.1l-5,9M702.8,213.8l-5,9M704.5,214.5l-5,9M706.2,215.2l-5,9M708.0,216.0l-5,9M709.7,216.7l-5,9M711.4,217.4l-5,9M713.1,218.1l-5,9M714.8,218.8l-5,9M716.5,219.5l-5,9M718.2,220.2l-5,9M719.9,220.9l-5,9M721.7,221.7l-5,9M723.4,222.4l-5,9M725.1,223.1l-5,9M726.8,223.8l-5,9M728.5,224.5l-5,9" stroke-width="1.05"/>
<path d="M670.5,202.5L727.5,226.0M669.3,204.5L726.5,228.0M668.1,206.5L725.5,230.0M666.9,208.5L724.5,232.0M665.7,210.5L723.5,234.0" stroke-width="0.9"/>
<path d="M672,201 L728.5,224.5 M665.5,210 L724,233" stroke-width="1.2"/>
<path fill="#fff" stroke-width="1.5" d="M449.0,129.0 L449.2,128.1 L449.5,126.7 L449.9,125.1 L450.3,123.5 L450.6,122.1 L451.0,121.0 L451.3,120.3 L451.5,119.9 L451.8,119.6 L452.0,119.4 L452.4,119.2 L453.0,119.0 L453.7,118.8 L454.5,118.7 L455.4,118.6 L456.4,118.4 L457.6,118.1 L459.0,117.5 L460.8,116.6 L462.9,115.5 L465.2,114.2 L467.4,112.9 L469.5,111.6 L471.0,110.5 L472.0,109.5 L472.6,108.6 L473.0,107.8 L473.3,106.9 L473.5,106.0 L474.0,105.0 L474.6,103.9 L475.3,102.6 L476.0,101.2 L476.7,100.0 L477.4,98.9 L478.0,98.0 L478.6,97.5 L479.1,97.2 L479.6,97.1 L480.0,97.0 L480.5,96.8 L481.0,96.5 L481.5,95.9 L482.0,95.2 L482.5,94.5 L483.0,93.7 L483.5,93.0 L484.0,92.5 L484.5,92.1 L485.0,91.8 L485.5,91.6 L486.0,91.4 L486.5,91.4 L487.0,91.5 L487.5,91.8 L488.1,92.2 L488.6,92.8 L489.1,93.4 L489.4,94.0 L489.5,94.5 L489.4,95.0 L489.1,95.4 L488.6,95.9 L488.1,96.4 L487.5,96.9 L487.0,97.5 L486.5,98.1 L485.9,98.8 L485.4,99.5 L484.8,100.3 L484.4,101.1 L484.0,102.0 L483.8,103.1 L483.8,104.3 L483.8,105.5 L483.8,106.8 L483.7,108.0 L483.5,109.0 L483.2,109.7 L483.0,110.2 L482.7,110.6 L482.2,111.1 L481.3,111.8 L480.0,113.0 L477.9,114.8 L475.2,117.1 L472.2,119.6 L469.1,122.1 L466.2,124.4 L464.0,126.0 L462.4,127.0 L461.2,127.6 L460.3,127.9 L459.6,128.0 L458.8,128.0 L458.0,128.0 L457.1,128.0 L456.2,127.7 L455.3,127.4 L454.5,127.1 L453.7,127.0 L453.0,127.0 L452.4,127.3 L451.8,127.9 L451.2,128.5 L450.8,129.1 L450.4,129.7 L450.0,130.0 L449.7,130.1 L449.5,129.9 L449.3,129.7 L449.2,129.4 L449.1,129.2 L449.0,129.0Z"/>
<path d="M460.0,117.0 L461.1,116.4 L462.5,115.7 L464.3,114.8 L466.2,113.8 L468.1,112.7 L470.0,111.6 L471.7,110.5 L473.0,109.5 L474.0,108.5 L474.8,107.3 L475.5,106.2 L476.1,105.0 L476.5,103.9 L477.0,102.8 L477.5,101.9 L478.0,101.0 L478.6,100.3 L479.2,99.6 L479.7,99.0 L480.3,98.5 L480.8,98.0 L481.3,97.6 L481.7,97.3 L482.0,97.0" stroke-width="1.4"/>
<path d="M452.0,126.0 L452.4,126.0 L453.0,126.0 L453.7,126.0 L454.5,126.0 L455.3,126.0 L456.2,125.9 L457.1,125.8 L458.0,125.5 L458.9,125.2 L459.8,124.8 L460.7,124.3 L461.6,123.8 L462.6,123.2 L463.7,122.5 L464.8,121.8 L466.0,121.0 L467.4,120.1 L468.9,119.0 L470.6,117.8 L472.2,116.6 L473.9,115.4 L475.5,114.1 L476.9,113.0 L478.0,112.0 L478.9,111.1 L479.6,110.3 L480.2,109.5 L480.7,108.8 L481.1,108.1 L481.4,107.4 L481.7,106.7 L482.0,106.0 L482.3,105.2 L482.5,104.4 L482.6,103.5 L482.8,102.6 L482.8,101.8 L482.9,101.1 L482.9,100.5 L483.0,100.0" stroke-width="1.1"/>
<circle cx="459.5" cy="122.5" r="1.8" fill="#fff" stroke-width="1.3"/>
<circle cx="467" cy="119.5" r="0.9" fill="#000"/>
<circle cx="474.5" cy="113.5" r="1.4" fill="#000"/>
<circle cx="482" cy="106" r="1" fill="#000"/>
<circle cx="486.5" cy="94" r="1.5" fill="#fff" stroke-width="1.3"/>
<circle cx="484.5" cy="98.5" r="1" fill="#fff" stroke-width="1.3"/>
<path d="M464.8,146.5 L466.5,154.5" stroke-width="3"/><path d="M465,148.5 l1.2,0 M465.5,151 l1.2,0" stroke="#fff" stroke-width="0.7"/><circle cx="466.8" cy="157.5" r="3.1" fill="#000"/><circle cx="466.8" cy="157.5" r="1.1" fill="#fff" stroke="none"/>
<path fill="#fff" stroke-width="1.5" d="M743.8,307.5 L743.8,307.3 L743.5,307.1 L743.3,306.8 L743.5,306.4 L744.3,305.5 L746.0,304.3 L749.2,302.2 L753.7,299.3 L758.9,296.1 L764.0,293.1 L768.4,290.7 L771.4,289.4 L772.9,289.5 L773.3,290.7 L773.0,292.5 L772.4,294.6 L771.5,296.5 L770.9,298.0 L770.3,298.9 L769.6,299.7 L768.7,300.3 L767.7,300.9 L766.8,301.5 L766.0,302.2 L765.3,303.1 L764.6,304.0 L764.0,305.0 L763.3,305.9 L762.6,306.8 L761.9,307.5 L761.1,308.0 L760.4,308.4 L759.7,308.7 L758.8,309.0 L757.8,309.3 L756.6,309.6 L755.0,310.0 L753.1,310.6 L751.1,311.1 L749.1,311.5 L747.3,311.8 L746.0,311.8 L745.1,311.4 L744.6,310.7 L744.2,309.8 L744.1,308.9 L743.9,308.0 L743.8,307.5Z"/>
<path fill="#fff" stroke-width="1.5" d="M739.6,299.0 L739.7,298.7 L739.7,298.5 L739.8,298.1 L740.1,297.6 L740.6,296.8 L741.7,295.8 L743.4,294.3 L745.7,292.4 L748.3,290.2 L750.9,288.0 L753.4,286.1 L755.5,284.7 L757.1,283.8 L758.4,283.4 L759.5,283.2 L760.6,283.1 L761.7,282.9 L763.0,282.5 L764.5,281.9 L766.2,281.3 L767.9,280.6 L769.6,279.9 L771.2,279.1 L772.5,278.3 L773.5,277.4 L774.4,276.5 L775.0,275.5 L775.6,274.5 L776.2,273.7 L776.8,273.0 L777.4,272.5 L778.0,272.2 L778.5,271.9 L779.0,271.8 L779.5,271.8 L780.0,271.9 L780.5,272.2 L781.1,272.6 L781.7,273.1 L782.1,273.7 L782.5,274.3 L782.6,275.0 L782.5,275.7 L782.3,276.4 L781.9,277.2 L781.3,278.1 L780.7,279.0 L780.0,279.9 L779.2,280.9 L778.3,281.9 L777.4,283.0 L776.3,284.1 L775.0,285.2 L773.6,286.3 L771.9,287.4 L770.1,288.4 L768.0,289.4 L765.9,290.5 L763.8,291.5 L761.9,292.6 L760.0,293.7 L758.1,294.8 L756.2,296.0 L754.4,297.1 L752.7,298.1 L751.3,299.0 L750.1,299.8 L749.1,300.4 L748.3,301.0 L747.5,301.5 L746.8,301.9 L746.0,302.2 L745.2,302.4 L744.4,302.6 L743.6,302.6 L742.9,302.6 L742.3,302.4 L741.7,302.2 L741.2,301.8 L740.8,301.3 L740.4,300.6 L740.1,299.9 L739.8,299.4 L739.6,299.0Z"/>
<path d="M748.0,300.0 L748.9,299.2 L750.2,298.1 L751.6,296.9 L753.2,295.4 L755.0,294.0 L756.7,292.5 L758.4,291.2 L760.0,290.0 L761.5,289.0 L763.1,288.0 L764.8,287.1 L766.4,286.2 L767.9,285.3 L769.4,284.5 L770.8,283.8 L772.0,283.0 L773.1,282.2 L774.1,281.5 L775.0,280.8 L775.8,280.1 L776.5,279.4 L777.1,278.9 L777.6,278.4 L778.0,278.0" stroke-width="1.2"/>
<circle cx="746" cy="298.5" r="1.5" stroke-width="1.2"/>
<circle cx="756" cy="286.8" r="1.3" stroke-width="1.2"/>
<circle cx="766.7" cy="296.9" r="1.3" stroke-width="1.2"/>
<circle cx="758.7" cy="305.9" r="1.3" stroke-width="1.2"/>
<circle cx="778.4" cy="274.6" r="1.5" stroke-width="1.2"/>
<circle cx="762" cy="289" r="0.9" fill="#000"/>
<path d="M751.8,331 L753,338" stroke-width="3"/><circle cx="753.4" cy="341" r="3.1" fill="#000"/><circle cx="753.4" cy="341" r="1.1" fill="#fff" stroke="none"/>
<path fill="#fff" stroke-width="1.35" d="M421.7,129.2 L425.1,124.9 L429.2,126.2 L431.9,128.5 L436,130 L441.2,133 L442.7,134.9 L442.7,137.9 L438.2,142 L436,142.7 L433.7,141.2 L431.1,138.2 L422.5,133.7 L421.4,131.1 Z"/>
<path d="M421.7,130.4 L430,134.1 L436.7,136.7 L442,133.7 M436.7,136.7 L437.5,141.2 M430,127.4 L426.2,130.7 M433,130.7 L430,134.5 M439.7,134.1 L436.7,136.4 M426.2,130.7 L433,130.7" stroke-width="1.1"/>
<path fill="#fff" stroke-width="1.35" d="M710.6,324.4 L716.6,320.2 L723,324.4 L726.7,326.2 L731.2,329.2 L732,332.2 L729,334.5 L725.2,336 L720,333 L716.2,331.5 L714.4,332.2 L711.4,329.2 Z"/>
<path d="M710.6,324.4 L717.4,327.7 L725.2,332.2 L731,330 M722.2,324.4 L717.4,327.7 M724.9,327.4 L721.1,330.7 M717.4,327.7 L720,331.1 M725.2,332.2 L726,335.5" stroke-width="1.1"/><circle cx="728.5" cy="332" r="2" fill="#000"/>
<ellipse cx="677.5" cy="72.2" rx="6.2" ry="3.3" fill="#fff" stroke-width="1.2"/><path d="M674.5,75 l0.5,3 M681,75 l0.5,3" stroke-width="2"/>
<circle cx="678.5" cy="92.5" r="3.3" fill="#fff" stroke-width="1.4"/><path d="M676.5,92.5 h4" stroke-width="1"/><path d="M678.5,96 V104" stroke-width="2.4"/>
<path d="M673.3,120.8 C673,118.5 676,116.2 678,115.8 C680,116.2 683.2,118.5 683.5,120.8 C683.2,122.3 681.8,122.8 681.2,123.2 L680.2,125.6 C679.2,126.6 677,126.6 676,125.6 L675,123.2 C674.4,122.8 673.5,122.3 673.3,120.8 Z" fill="#fff" stroke-width="1.4"/><circle cx="678.2" cy="119.3" r="1.3" stroke-width="1"/><circle cx="678.2" cy="123.3" r="1.4" stroke-width="1"/><path d="M675,121 h6.5" stroke-width="1"/>
<rect x="740.5" y="190.9" width="5.3" height="5.2" rx="1.3" fill="#000"/><path d="M742,193.8 l2.6,-1.1" stroke="#fff" stroke-width="0.9"/><path d="M741.1,197.5 L745.5,197.5 L745.3,202.5 C745,203.9 741.5,203.9 741.2,202.5 Z" fill="#000" stroke-width="0.8"/><path d="M742.1,198.8 L744.4,198.8 L743.3,201.6 Z" fill="#fff" stroke="none"/><ellipse cx="743.1" cy="196.4" rx="3.8" ry="1.4" fill="#fff" stroke-width="1.3"/>
<path fill="#fff" stroke-width="1.4" d="M612.8,407.5 L615.5,402.3 L624.5,397.2 L629.5,398 L631.4,402.5 L630.5,409.5 L621.5,415.5 L616.5,416 L613,412.5 Z"/><path d="M615.5,402.3 L620.5,401.5 L622.8,405.5 L621.5,415.5 M620.5,401.5 L629.5,398 M622.8,405.5 L631.4,402.5" stroke-width="1.1"/><circle cx="617.6" cy="409" r="2.4" stroke-width="1.3"/><circle cx="617.6" cy="409" r="1" fill="#000"/>
<path fill="#000" stroke-width="0.8" d="M643,495.5 C645,496 647,498.5 647.8,500.5 C649,502 648.5,505.5 646.5,507 C644,508.2 640,507.8 638.8,505.5 C637.8,503.5 638.5,501.5 640,500 C641,498.5 641.5,496 643,495.5 Z"/><path d="M640.2,502.2 L643.8,505.6 M642.6,503.4 l2.6,-1.6" stroke="#fff" stroke-width="1.1"/><circle cx="642.3" cy="498.4" r="0.8" fill="#fff" stroke="none"/>
<rect x="271" y="493" width="8.6" height="7.6" rx="3" fill="#fff" stroke-width="1.3"/><rect x="270.8" y="485.8" width="9" height="11" rx="3.2" fill="#000" stroke-width="1"/><ellipse cx="275.3" cy="488" rx="2.3" ry="1.3" fill="#fff" stroke="none"/><path d="M272.5,492.5 h5.5" stroke="#888" stroke-width="0.8"/>
<path fill="#fff" stroke-width="1.2" d="M326,515 L327.5,511.5 L424.5,565 L425.5,567.5 L424,570.5 L422,570 L325.5,516.5 Z"/><path d="M328,515 L423,567.5" stroke-width="1"/><path d="M353,527.5l2,1M375,540l2,1M397,552l2,1M331,514l-1,2M420,566l-1,2" stroke-width="2"/>
<path fill="#fff" d="M269.6,527.6 L273.0,529.5 L277.6,532.1 L283.1,535.1 L289.1,538.5 L295.2,541.9 L301.1,545.1 L307.0,548.3 L313.4,551.8 L319.9,555.4 L326.1,558.8 L331.6,561.7 L336.0,564.1 L339.2,565.7 L341.3,566.8 L342.7,567.5 L343.6,567.8 L344.4,568.1 L345.4,568.3 L346.4,568.5 L347.3,568.4 L348.3,568.2 L349.4,568.0 L350.8,567.8 L352.1,567.8 L353.3,567.9 L354.5,568.1 L355.6,568.4 L356.8,568.8 L358.0,569.4 L359.3,570.3 L360.6,571.4 L361.7,572.7 L362.7,574.0 L363.7,575.3 L364.9,576.5 L366.4,577.8 L367.6,578.7 L368.5,579.2 L369.6,579.8 L371.7,580.9 L375.3,582.9 L381.1,586.1 L390.3,591.3 L402.8,598.4 L416.8,606.4 L430.6,614.2 L442.4,620.9 L450.6,625.6 L448.4,629.4 448.4,629.4 L440.2,624.8 L428.4,618.0 L414.6,610.2 L400.6,602.2 L388.1,595.2 L378.9,589.9 L373.2,586.7 L369.6,584.8 L367.6,583.7 L366.3,583.0 L365.2,582.3 L363.6,581.2 L361.9,579.7 L360.4,578.2 L359.2,576.7 L358.2,575.4 L357.4,574.4 L356.7,573.7 L355.9,573.2 L355.1,572.9 L354.4,572.6 L353.6,572.4 L352.7,572.3 L351.9,572.2 L351.1,572.2 L350.3,572.3 L349.2,572.6 L347.8,572.8 L346.3,572.9 L344.6,572.7 L343.2,572.3 L342.1,572.0 L340.8,571.5 L339.3,570.7 L337.1,569.6 L334.0,567.9 L329.5,565.6 L324.0,562.6 L317.8,559.2 L311.3,555.7 L304.9,552.2 L298.9,548.9 L293.1,545.7 L287.0,542.3 L281.0,539.0 L275.5,535.9 L270.8,533.3 L267.4,531.4 Z" stroke-width="1"/>
<path d="M269.1,528.5 L272.5,530.3 L277.1,532.9 L282.6,536.0 L288.7,539.4 L294.8,542.7 L300.6,545.9 L306.5,549.2 L312.9,552.7 L319.4,556.3 L325.6,559.6 L331.1,562.6 L335.6,564.9 L338.7,566.6 L340.8,567.7 L342.2,568.4 L343.2,568.8 L344.1,569.0 L345.2,569.3 L346.4,569.5 L347.5,569.4 L348.5,569.2 L349.6,569.0 L350.8,568.8 L352.1,568.8 L353.2,568.9 L354.3,569.1 L355.3,569.3 L356.4,569.7 L357.6,570.3 L358.7,571.1 L359.9,572.1 L360.9,573.3 L361.9,574.6 L362.9,575.9 L364.2,577.3 L365.7,578.6 L367.1,579.5 L368.0,580.1 L369.2,580.7 L371.2,581.8 L374.8,583.7 L380.6,587.0 L389.8,592.2 L402.3,599.3 L416.3,607.2 L430.1,615.1 L441.9,621.8 L450.1,626.5" stroke-width="2.2"/>
<path d="M464.5,546.0 L464.8,546.7 L465.2,547.7 L465.6,548.9 L466.2,550.2 L466.9,551.4 L467.8,552.5 L468.9,553.5 L470.1,554.6 L471.4,555.7 L472.9,556.7 L474.6,557.5 L476.3,558.0 L478.1,558.1 L480.0,557.9 L482.0,557.4 L484.2,557.0 L486.6,556.9 L489.4,557.2 L492.1,557.9 L494.5,558.7 L497.2,559.7 L500.7,561.1 L505.4,563.1 L512.0,565.6 L521.4,569.2 L533.5,573.7 L546.9,578.7 L560.2,583.8 L572.1,588.4 L581.3,592.0 L587.4,594.6 L591.6,596.5 L594.3,597.9 L596.2,599.1 L597.9,600.2 L600.0,601.5 L602.4,602.9 L604.7,604.2 L606.7,605.5 L608.5,606.6 L610.0,607.8 L611.3,608.8 L612.2,609.7 L612.8,610.6 L613.1,611.4 L613.2,612.1 L613.2,612.8 L613.2,613.5 L613.1,614.2 L613.0,614.8 L612.7,615.4 L612.3,616.0 L611.7,616.5 L611.0,617.0 L610.0,617.4 L608.7,617.9 L607.3,618.2 L605.9,618.5 L604.6,618.8 L603.8,619.0" stroke-width="2.9"/>
<path d="M464.5,546.0 L464.8,546.7 L465.2,547.7 L465.6,548.9 L466.2,550.2 L466.9,551.4 L467.8,552.5 L468.9,553.5 L470.1,554.6 L471.4,555.7 L472.9,556.7 L474.6,557.5 L476.3,558.0 L478.1,558.1 L480.0,557.9 L482.0,557.4 L484.2,557.0 L486.6,556.9 L489.4,557.2 L492.1,557.9 L494.5,558.7 L497.2,559.7 L500.7,561.1 L505.4,563.1 L512.0,565.6 L521.4,569.2 L533.5,573.7 L546.9,578.7 L560.2,583.8 L572.1,588.4 L581.3,592.0 L587.4,594.6 L591.6,596.5 L594.3,597.9 L596.2,599.1 L597.9,600.2 L600.0,601.5 L602.4,602.9 L604.7,604.2 L606.7,605.5 L608.5,606.6 L610.0,607.8 L611.3,608.8 L612.2,609.7 L612.8,610.6 L613.1,611.4 L613.2,612.1 L613.2,612.8 L613.2,613.5 L613.1,614.2 L613.0,614.8 L612.7,615.4 L612.3,616.0 L611.7,616.5 L611.0,617.0 L610.0,617.4 L608.7,617.9 L607.3,618.2 L605.9,618.5 L604.6,618.8 L603.8,619.0" stroke="#fff" stroke-width="1.0"/>
<path fill="#fff" stroke-width="1.1" d="M489,555.2 L512,564 L511.3,567.2 L488.3,558.5 Z"/><path d="M511,563.8 l-0.6,3.6" stroke-width="1.8"/>
<ellipse cx="464.8" cy="542.5" rx="2.3" ry="3" fill="#fff" stroke-width="1.4"/><ellipse cx="464.9" cy="546.3" rx="4" ry="2.6" fill="#fff" stroke-width="1.6"/><circle cx="464.9" cy="546.5" r="1.2" fill="#000"/>
<circle cx="471.6" cy="569.6" r="4.2" fill="#fff" stroke-width="1.5"/><path d="M468.5,568.5 a3.2,3 0 0,1 6.3,0.2 l-1.5,1.2 l-1.8,-1.8 l-1.6,1.8 z" fill="#000"/><path d="M469,565.5 l2.6,-1.5 l2.6,1.5" stroke-width="1.2"/>
<path d="M581.8,621.7V631" stroke-width="1.1"/><ellipse cx="582.4" cy="620" rx="4.2" ry="1.7" fill="#fff" stroke-width="1.3"/><rect x="579.4" y="612" width="5.6" height="7.2" rx="1.5" fill="#000"/><rect x="581.2" y="614.2" width="2" height="4" fill="#fff" stroke="none"/>
<path fill="#fff" stroke-width="1.3" d="M576.5,630 C577.5,628 582,628 585.4,630.2 L588,632 L589,636 L588.3,640 L582.2,637.1 C578,636 576,633 576.5,630 Z"/><ellipse cx="581.3" cy="632.3" rx="2" ry="1.2" stroke-width="1.1"/>
<path fill="#fff" stroke-width="1.3" d="M588.7,640 L596,635.9 L601.7,637.5 C603.5,639 603.5,642 601,643.5 L597.6,644 L591.1,643.2 Z"/><ellipse cx="597.2" cy="640.3" rx="2" ry="1.1" stroke-width="1.1"/>
<path fill="#fff" stroke-width="1.3" d="M585.4,630.2 C586,627.5 589,626 591.5,626.3 C594.5,626.8 596,629 596,631.5 L596,636 L588.7,640 L588.3,636 C588,634 587,632 585.4,630.2 Z"/><path d="M582.2,637.1 C584,635 586.5,634 588,636" stroke-width="1.6"/>
<path fill="#fff" stroke-width="1.5" d="M585.5,654.8 L592,651.8 C595,651.5 597,654 597,656.5 L596.6,661 L590,664.8 C588,665.5 583.5,665.5 582.5,663 L582.3,658 C582.3,656.5 583.5,655.3 585.5,654.8 Z"/><path d="M585.5,654.8 C588.5,655 589.5,658 589.3,660.5 L589.1,665" stroke-width="1.3"/><rect x="583.5" y="657.5" width="3.5" height="5" stroke-width="1.1"/>
<path fill="#fff" stroke-width="1.3" d="M400.5,672.8 L404.9,671.2 L410.6,674.1 L411.6,678.6 L406.2,680.5 Z"/>
<path fill="#fff" stroke-width="1.3" d="M408.1,681.7 L413.2,685.6 L420.8,686.2 L421.5,681.7 L425.3,682.4 L425.9,688.1 L429.7,691.3 L427.2,693.2 L411.9,692.2 L408.1,690.6 Z"/><path d="M413,688.5 L424,690 M422.5,683 L423,687" stroke-width="1"/>
<path fill="#000" stroke-width="1" d="M386.5,666.5 L392.5,666 L396,670 L398,676 L401,680 L406,684 L408.1,691.3 L404,692.5 L398,688.5 L392,683.5 L387,680 L385.5,673 Z"/>
<path fill="#fff" stroke-width="1.2" d="M396,670 L400.5,672.8 L406.2,680.5 L408,683 L405,684.5 L401,680 L398,676 Z"/>
<path fill="#fff" stroke-width="1.3" d="M386.5,661.4 L393.5,664.5 L392.8,667.7 L386,667.2 Z"/>
<path d="M391.5,671 l1.5,4 M398,677 l2,2.5" stroke="#fff" stroke-width="0.9"/><path d="M395.5,675.5 L399,673.5 L403,679 L400.5,681 Z M389.5,680 L393,682.5 L391,684 Z M402,684 l3,2 l-1,2.5 l-3,-2z" fill="#fff" stroke="#fff" stroke-width="0.6"/>
<path d="M350,687 L357.5,683.2" stroke-width="3.4"/><path d="M351.5,685 l1.2,2 M353.5,684 l1.2,2 M355.5,683 l1.2,2" stroke="#fff" stroke-width="0.6"/><circle cx="347.3" cy="689" r="3.7" fill="#000"/><circle cx="347.3" cy="689" r="1.3" fill="#fff" stroke="none"/>
<circle cx="436.7" cy="696.4" r="2.8" stroke-width="1.1"/><path d="M439,698 L499,731.8" stroke-width="1.4"/>
<path d="M519.0,742.5 L521.5,743.6 L524.9,745.1 L529.0,746.8 L533.3,748.7 L537.5,750.5 L541.3,752.0 L544.6,753.3 L547.7,754.5 L550.7,755.7 L553.7,756.7 L556.7,757.7 L560.0,758.5 L563.5,759.3 L567.1,760.0 L570.7,760.6 L574.5,761.1 L578.2,761.4 L581.8,761.5 L585.4,761.4 L588.9,761.1 L592.3,760.7 L595.8,760.1 L599.4,759.4 L603.0,758.5 L606.6,757.6 L610.2,756.6 L613.8,755.5 L617.5,754.1 L621.5,752.5 L625.7,750.5 L630.2,748.1 L634.7,745.4 L639.5,742.5 L644.6,739.2 L650.1,735.7 L656.0,732.0 L662.9,727.7 L670.8,722.7 L679.1,717.5 L687.1,712.5 L694.3,708.0 L700.0,704.5 L704.1,702.1 L707.2,700.4 L709.4,699.3 L711.0,698.6 L712.2,698.0 L713.3,697.5 M727,691 L790.6,654" stroke-width="4.0"/>
<path d="M519.0,742.5 L521.5,743.6 L524.9,745.1 L529.0,746.8 L533.3,748.7 L537.5,750.5 L541.3,752.0 L544.6,753.3 L547.7,754.5 L550.7,755.7 L553.7,756.7 L556.7,757.7 L560.0,758.5 L563.5,759.3 L567.1,760.0 L570.7,760.6 L574.5,761.1 L578.2,761.4 L581.8,761.5 L585.4,761.4 L588.9,761.1 L592.3,760.7 L595.8,760.1 L599.4,759.4 L603.0,758.5 L606.6,757.6 L610.2,756.6 L613.8,755.5 L617.5,754.1 L621.5,752.5 L625.7,750.5 L630.2,748.1 L634.7,745.4 L639.5,742.5 L644.6,739.2 L650.1,735.7 L656.0,732.0 L662.9,727.7 L670.8,722.7 L679.1,717.5 L687.1,712.5 L694.3,708.0 L700.0,704.5 L704.1,702.1 L707.2,700.4 L709.4,699.3 L711.0,698.6 L712.2,698.0 L713.3,697.5 M727,691 L790.6,654" stroke="#fff" stroke-width="1.9"/>
<path fill="#000" stroke-width="1.2" d="M498.5,728.5 L508,733.5 L507,741 L497,735.5 Z"/><path d="M500.5,730l-1.5,5.5M503,731.5l-1.5,5.5M505.5,733l-1.5,5.5" stroke="#fff" stroke-width="0.8"/><path fill="#fff" stroke-width="1.3" d="M508,734.5 L519,740.5 L517.5,746.5 L506.5,741 Z"/><path d="M515,738.5 l-2,6.5" stroke-width="1.1"/>
<g transform="translate(716.5,697.3) rotate(-30.2)"><path fill="#fff" stroke-width="1.2" d="M3,-3 H9 V3 H3 Z"/><ellipse cx="0" cy="0" rx="3" ry="4.8" fill="#fff" stroke-width="1.3"/><ellipse cx="-1.2" cy="0" rx="1.8" ry="4.2" fill="#fff" stroke-width="1"/><ellipse cx="13" cy="0" rx="3" ry="7.2" fill="#fff" stroke-width="1.4"/><ellipse cx="10" cy="0" rx="3" ry="7.2" fill="#fff" stroke-width="1.4"/><ellipse cx="9" cy="0" rx="1.6" ry="5" stroke-width="1"/></g>
<g transform="translate(790.6,654) rotate(-30.2)"><path fill="#fff" stroke-width="1.3" d="M0,-4.2 L2,-5 L9,-5 L10,-4 L10,4 L9,5 L2,5 L0,4.2 Z"/><path d="M3.5,-5 V5 M6.5,-5 V5" stroke-width="1"/><path fill="#fff" stroke-width="1.2" d="M10,-3.6 H19 V3.6 H10 Z"/><path d="M12,-3.6V3.6M14,-3.6V3.6M16,-3.6V3.6" stroke-width="0.9"/><path fill="#fff" stroke-width="1.3" d="M19,-3 H24 V3 H19 Z"/><circle cx="28" cy="-1.5" r="5.2" fill="#fff" stroke-width="1.4"/><path d="M24,-3 L26,-6" stroke-width="1"/></g>
<path fill="#fff" stroke-width="1.4" d="M646.5,767 C646.8,771 649.3,774.8 651.3,774.8 C653.5,774.8 656,771 656.1,767 Z"/><path d="M654.5,767.5 V773" stroke-width="1.1"/>
<ellipse cx="650.9" cy="762" rx="7" ry="4.2" fill="#fff" stroke-width="1.4"/><path d="M644,763.5 C645,766.5 656,766.5 657.8,763.5 M645.5,766.8 H656.5" stroke-width="1.2"/>
<path fill="#fff" stroke-width="1.4" d="M647.8,763 L647.8,756.5 C648,752.5 654,752.5 654.4,756.5 L654.6,763 Z"/><path d="M649.4,762 V756.8 C649.6,755 651,754.5 652,755" stroke-width="1.1"/>
<path fill="#fff" stroke-width="1.3" d="M794,585 L809,588 L808.5,595 C808,596.5 806,597 803.5,596.2 L795,592 C793.5,591 793,589 793.5,587.5 Z"/><path d="M794.5,587.8 C797,586.5 800,586.5 802,587.5" stroke-width="1.2"/>
<path fill="#fff" stroke-width="1.3" d="M831.9,568.7 L830,576.2 L820.6,590.3 L818.7,590.8 L811.2,586.6 L826,570 Z"/>
<path fill="#fff" stroke-width="1.3" d="M792.5,578.1 L808.4,561.7 L810.3,559.4 L831.9,568.7 L826.2,577.2 L818.5,586 L811.2,587.5 L809.4,585.6 L791.6,581.9 Z"/>
<path d="M791.6,580 L809.4,585.6 L826,569 M810.3,559.4 L809,562.5 L829,571 L831.9,568.7" stroke-width="1.2"/>
<path d="M811,561.5 L828.5,569.5" stroke-width="2.4"/><path d="M813,562.5 l3,1.2 M818,564.7 l3,1.2 M823,566.9 l3,1.2" stroke="#fff" stroke-width="0.9"/>
<path d="M800.5,576 c1.5,-2 3.5,-1 3.5,0.8 M806,580 c-1.5,2 -3.5,1 -3.5,-0.8 M803,579 L808,573 M806,580 L810,574.5" stroke-width="1.4"/>
<path d="M812.2,587.5 L821.6,613.7" stroke-width="1"/><path d="M819.5,606 L821.8,613" stroke-width="2.4"/><ellipse cx="822.3" cy="616" rx="3.4" ry="2.4" fill="#000"/><circle cx="822.5" cy="615.8" r="1" fill="#fff" stroke="none"/>
<path d="M580.5,48V67.5M556.5,111.5V67.5H603.5V80.5" stroke-width="1"/>
<path d="M603.5,104V118M603.5,127V142.5H594.5" stroke-width="1"/>
<path d="M476.5,70V99" stroke-width="1"/>
<path d="M435.5,100V129" stroke-width="1"/>
<path d="M436.5,154.5H464.5" stroke-width="1"/>
<path d="M461,128L465,148" stroke-width="1"/>
<path d="M684,72.5H706" stroke-width="1"/>
<path d="M682,93.5H704" stroke-width="1"/>
<path d="M683,119.5H706" stroke-width="1"/>
<path d="M678.5,126V197" stroke-width="1"/>
<path d="M658.5,151.5V179" stroke-width="1"/>
<path d="M746,196.5H769.5" stroke-width="1"/>
<path d="M743.5,203.5V249" stroke-width="1"/>
<path d="M340.5,247.5H368.9" stroke-width="1"/>
<path d="M605.5,220V244.5" stroke-width="1"/>
<path d="M770.4,298.5H800.5" stroke-width="1"/>
<path d="M756.6,340.5H784.5" stroke-width="1"/>
<path d="M748,312.3L751.8,332" stroke-width="1"/>
<path d="M718.5,333V354" stroke-width="1"/>
<path d="M630.5,404.5H656" stroke-width="1"/>
<path d="M354.5,407.5H383" stroke-width="1"/>
<path d="M648.5,503.5H671" stroke-width="1"/>
<path d="M643.5,468V497" stroke-width="1"/>
<path d="M279.8,494.5H304.5" stroke-width="1"/>
<path d="M368.5,508V533.5" stroke-width="1"/>
<path d="M325.5,566.5V591" stroke-width="1"/>
<path d="M816.5,536.5V560.5" stroke-width="1"/>
<path d="M794.5,614.5H819" stroke-width="1"/>
<path d="M565.5,561V585.5" stroke-width="1"/>
<path d="M472.5,574V589.5" stroke-width="1"/>
<path d="M557,616.5H579" stroke-width="1"/>
<path d="M597.3,632.5H617.9" stroke-width="1"/>
<path d="M596.3,658.5H619.8" stroke-width="1"/>
<path d="M683.5,688V714.5" stroke-width="1"/>
<path d="M353.5,690V710" stroke-width="1"/>
<path d="M398.5,681.8V708.5" stroke-width="1"/>
<path d="M657.6,764.5H685.5" stroke-width="1"/>
<path d="M357,684L387,666.5" stroke-width="1"/>
</g>
<text x="570.20" y="43.5">3</text>
<path fill="#000" d="M585.46,43.50 L585.46,33.40 L582.51,35.30 L582.26,33.70 C583.61,32.80 585.11,31.70 585.86,30.45 L587.21,30.45 L587.21,43.50 Z"/>
<text x="470.70" y="65.5">2</text>
<text x="425.00" y="93.0">2</text>
<text x="435.01" y="93.0">2</text>
<text x="592.80" y="99.3">3</text>
<text x="602.81" y="99.3">2</text>
<text x="423.00" y="161.0">3</text>
<text x="710.70" y="79.0">3</text>
<text x="720.71" y="79.0">5</text>
<text x="710.20" y="101.0">3</text>
<text x="720.21" y="101.0">4</text>
<text x="710.70" y="126.0">3</text>
<text x="720.71" y="126.0">3</text>
<text x="648.80" y="148.0">3</text>
<text x="658.81" y="148.0">0</text>
<text x="773.70" y="203.3">3</text>
<text x="783.71" y="203.3">6</text>
<path fill="#000" d="M330.35,253.30 L330.35,243.20 L327.40,245.10 L327.15,243.50 C328.50,242.60 330.00,241.50 330.75,240.25 L332.10,240.25 L332.10,253.30 Z"/>
<text x="599.20" y="262.0">8</text>
<text x="805.00" y="304.0">2</text>
<text x="788.80" y="346.8">3</text>
<text x="708.20" y="370.5">2</text>
<text x="718.21" y="370.5">2</text>
<path fill="#000" d="M664.85,411.70 L664.85,401.60 L661.90,403.50 L661.65,401.90 C663.00,401.00 664.50,399.90 665.25,398.65 L666.60,398.65 L666.60,411.70 Z"/>
<text x="669.61" y="411.7">0</text>
<text x="340.80" y="414.4">4</text>
<text x="674.20" y="510.4">5</text>
<text x="308.70" y="500.8">9</text>
<text x="364.10" y="504.0">7</text>
<text x="321.20" y="609.4">6</text>
<path fill="#000" d="M809.05,531.90 L809.05,521.80 L806.10,523.70 L805.85,522.10 C807.20,521.20 808.70,520.10 809.45,518.85 L810.80,518.85 L810.80,531.90 Z"/>
<text x="813.81" y="531.9">5</text>
<path fill="#000" d="M560.15,556.30 L560.15,546.20 L557.20,548.10 L556.95,546.50 C558.30,545.60 559.80,544.50 560.55,543.25 L561.90,543.25 L561.90,556.30 Z"/>
<text x="564.91" y="556.3">7</text>
<text x="462.20" y="606.5">2</text>
<path fill="#000" d="M477.46,606.50 L477.46,596.40 L474.51,598.30 L474.26,596.70 C475.61,595.80 477.11,594.70 477.86,593.45 L479.21,593.45 L479.21,606.50 Z"/>
<text x="533.10" y="622.9">2</text>
<text x="543.11" y="622.9">0</text>
<path fill="#000" d="M776.85,621.70 L776.85,611.60 L773.90,613.50 L773.65,611.90 C775.00,611.00 776.50,609.90 777.25,608.65 L778.60,608.65 L778.60,621.70 Z"/>
<text x="781.61" y="621.7">6</text>
<path fill="#000" d="M625.75,638.40 L625.75,628.30 L622.80,630.20 L622.55,628.60 C623.90,627.70 625.40,626.60 626.15,625.35 L627.50,625.35 L627.50,638.40 Z"/>
<text x="630.51" y="638.4">8</text>
<path fill="#000" d="M627.65,664.70 L627.65,654.60 L624.70,656.50 L624.45,654.90 C625.80,654.00 627.30,652.90 628.05,651.65 L629.40,651.65 L629.40,664.70 Z"/>
<text x="632.41" y="664.7">9</text>
<path fill="#000" d="M675.65,684.00 L675.65,673.90 L672.70,675.80 L672.45,674.20 C673.80,673.30 675.30,672.20 676.05,670.95 L677.40,670.95 L677.40,684.00 Z"/>
<text x="680.41" y="684.0">3</text>
<path fill="#000" d="M346.75,727.30 L346.75,717.20 L343.80,719.10 L343.55,717.50 C344.90,716.60 346.40,715.50 347.15,714.25 L348.50,714.25 L348.50,727.30 Z"/>
<text x="351.51" y="727.3">2</text>
<path fill="#000" d="M394.15,727.30 L394.15,717.20 L391.20,719.10 L390.95,717.50 C392.30,716.60 393.80,715.50 394.55,714.25 L395.90,714.25 L395.90,727.30 Z"/>
<path fill="#000" d="M404.16,727.30 L404.16,717.20 L401.21,719.10 L400.96,717.50 C402.31,716.60 403.81,715.50 404.56,714.25 L405.91,714.25 L405.91,727.30 Z"/>
<path fill="#000" d="M692.35,771.50 L692.35,761.40 L689.40,763.30 L689.15,761.70 C690.50,760.80 692.00,759.70 692.75,758.45 L694.10,758.45 L694.10,771.50 Z"/>
<text x="697.11" y="771.5">4</text>
<text class="wm" transform="translate(246.5,572.8) rotate(13.3)">WWW.ILCATS.RU</text>
<g transform="translate(242.8,589.8) rotate(13.3)"><path fill="#bdbdbd" d="M4.59,0.00 L4.59,-8.84 L2.01,-7.17 L1.79,-8.58 C2.98,-9.36 4.29,-10.33 4.94,-11.42 L6.12,-11.42 L6.12,0.00 Z"/><text class="wm" x="8.76" y="0">8</text><text class="wm" x="17.51" y="0">:</text><path fill="#bdbdbd" d="M26.49,0.00 L26.49,-8.84 L23.90,-7.17 L23.69,-8.58 C24.87,-9.36 26.18,-10.33 26.84,-11.42 L28.02,-11.42 L28.02,0.00 Z"/><text class="wm" x="30.65" y="0">3</text><text class="wm" x="43.78" y="0">0</text><path fill="#bdbdbd" d="M57.14,0.00 L57.14,-8.84 L54.55,-7.17 L54.34,-8.58 C55.52,-9.36 56.83,-10.33 57.49,-11.42 L58.67,-11.42 L58.67,0.00 Z"/><text class="wm" x="61.30" y="0">.</text><text class="wm" x="65.68" y="0">0</text><text class="wm" x="74.43" y="0">7</text><text class="wm" x="83.19" y="0">.</text><text class="wm" x="87.57" y="0">2</text><text class="wm" x="96.33" y="0">0</text><text class="wm" x="105.08" y="0">2</text><text class="wm" x="113.84" y="0">5</text></g>
</svg></body></html>
